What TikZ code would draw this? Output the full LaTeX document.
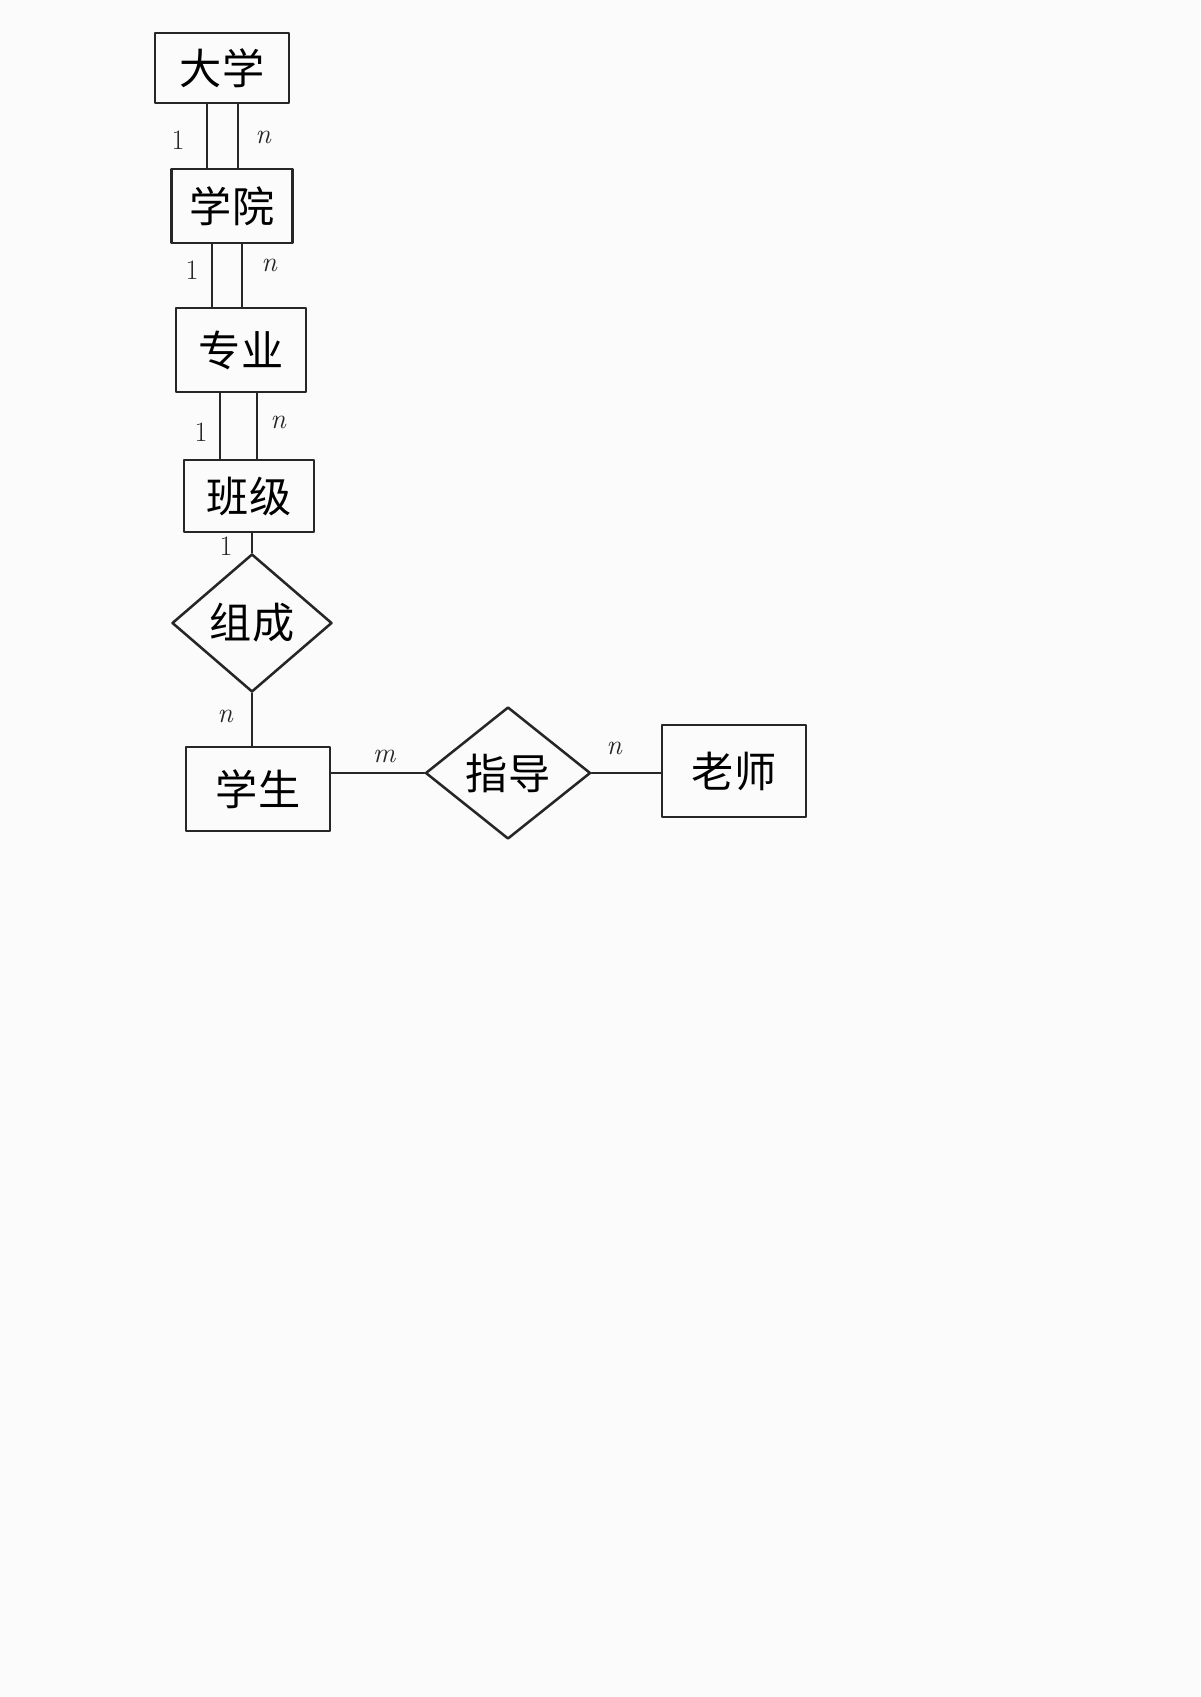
\documentclass[tikz,border=0pt]{standalone}
\usepackage{fontspec}
\newfontfamily\cjk{Noto Sans CJK SC}
\usetikzlibrary{shapes.geometric}
\begin{document}
\begin{tikzpicture}[x=0.25mm,y=-0.25mm,
  ink/.style={line width=1.8pt,draw=black!85,line cap=round,line join=round},
  sz/.style 2 args={minimum width={#1*0.25mm},minimum height={#2*0.25mm}},
  entity/.style={ink,rectangle,inner sep=0pt,font=\cjk\fontsize{30}{34}\selectfont},
  rel/.style={ink,diamond,inner sep=0pt,font=\cjk\fontsize{30}{34}\selectfont},
  card/.style={font=\itshape\fontsize{20}{22}\selectfont,text=black!85},
  one/.style={font=\fontsize{20}{22}\selectfont,text=black!85}]
\fill[white!98.5!black] (0,0) rectangle (1200,1697);
\useasboundingbox (0,0) rectangle (1200,1697);

\node[entity,sz={134}{70}] (dx) at (222,68) {大学};
\node[entity,sz={121}{74}] (xy) at (232,206) {学院};
\node[entity,sz={130}{84}] (zy) at (241,350) {专业};
\node[entity,sz={130}{72}] (bj) at (249,496) {班级};
\node[rel,sz={160}{138}] (zc) at (252,623) {组成};
\node[entity,sz={144}{84}] (xs) at (258,789) {学生};
\node[rel,sz={165}{132}] (zd) at (508,773) {指导};
\node[entity,sz={144}{92}] (ls) at (734,771) {老师};

% 大学 - 学院
\draw[ink] (207,0 |- dx.south) -- (207,0 |- xy.north);
\draw[ink] (238,0 |- dx.south) -- (238,0 |- xy.north);
\node[one] (l1a) at (178,140) {1};
\node[card] (l1b) at (263,137) {n};
% 学院 - 专业
\draw[ink] (212,0 |- xy.south) -- (212,0 |- zy.north);
\draw[ink] (242,0 |- xy.south) -- (242,0 |- zy.north);
\node[one] (l2a) at (192,270) {1};
\node[card] (l2b) at (269,265) {n};
% 专业 - 班级
\draw[ink] (220,0 |- zy.south) -- (220,0 |- bj.north);
\draw[ink] (257,0 |- zy.south) -- (257,0 |- bj.north);
\node[one] (l3a) at (201,432) {1};
\node[card] (l3b) at (278,422) {n};
% 班级 - 组成
\draw[ink] (zc.north |- bj.south) -- (zc.north);
\node[one] (l4a) at (226,546) {1};
% 组成 - 学生
\draw[ink] (zc.south) -- (zc.south |- xs.north);
\node[card] (l5b) at (225,716) {n};
% 学生 - 指导 - 老师
\draw[ink] (xs.east |- zd.west) -- (zd.west);
\node[card] (l6a) at (384,756) {m};
\draw[ink] (zd.east) -- (ls.west |- zd.east);
\node[card] (l6b) at (614,748) {n};
\end{tikzpicture}
\end{document}
